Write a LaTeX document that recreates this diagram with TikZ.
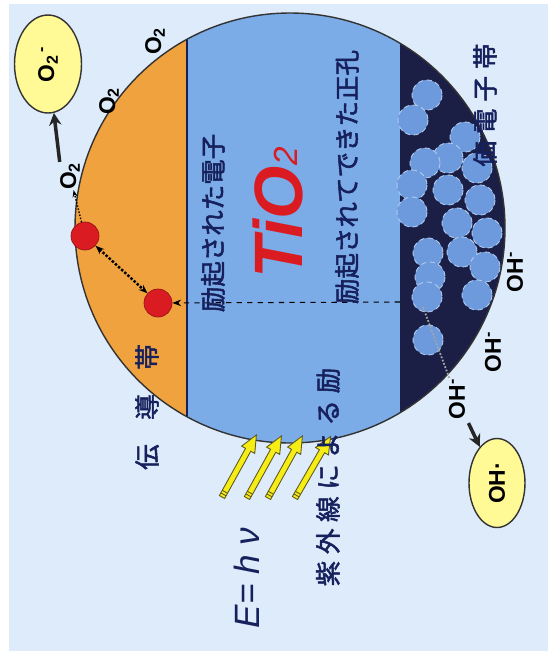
\documentclass[tikz,border=0pt]{standalone}
\usepackage{fontspec}
\setmainfont{Liberation Sans}
\newfontfamily\jpfont{Noto Sans CJK JP}[FakeBold=2]
\usetikzlibrary{shapes.geometric,arrows.meta}

\definecolor{sky}{RGB}{221,235,250}
\definecolor{band}{RGB}{240,162,62}
\definecolor{gap}{RGB}{124,172,232}
\definecolor{valence}{RGB}{27,31,70}
\definecolor{grainblue}{RGB}{108,154,220}
\definecolor{ink}{RGB}{22,32,92}
\definecolor{elec}{RGB}{218,28,34}
\definecolor{pale}{RGB}{255,250,150}
\definecolor{ray}{RGB}{246,236,22}
\definecolor{rayedge}{RGB}{95,90,30}

\tikzset{
	jlabel/.style={rotate=90, inner sep=0pt, text=ink, font=\jpfont\fontsize{14.5}{16}\selectfont},
	chem/.style={rotate=90, inner sep=0pt, font=\bfseries\fontsize{13}{15}\selectfont},
	bubble/.style={ellipse, rotate=90, draw=black!80, fill=pale, line width=0.8pt, inner sep=0pt, font=\bfseries\fontsize{13}{15}\selectfont},
	carrier/.style={circle, fill=elec, draw=elec!70!black, line width=0.4pt, inner sep=0pt, minimum size=0.56cm},
	grain/.style={fill=grainblue, draw=grainblue!50!white, densely dashed, line width=0.5pt},
	hop/.style={densely dotted, line width=1.4pt, {Stealth[length=5pt]}-{Stealth[length=5pt]}},
	push/.style={line width=2pt, black!85, -{Stealth[length=7pt,width=7pt]}},
	uvray/.pic={
		\filldraw[fill=ray, draw=rayedge, line width=0.5pt] (0,-3) -- (54,-3) -- (54,-7.5) -- (71,0) -- (54,7.5) -- (54,3) -- (0,3) -- cycle;
		\draw[rayedge, line width=0.5pt] (3,-3) -- (3,3) (6,-3) -- (6,3);
	}
}

\begin{document}
\begin{tikzpicture}[x=0.02cm, y=-0.02cm]
		\fill[white] (0,0) rectangle (553,660);
		\useasboundingbox (0,0) rectangle (553,660);
		\fill[sky] (9,4) rectangle (548,651);

		\node [] (0) at (290,228) {};
		% bands inside the particle
		\begin{scope}
			\clip (0.center) circle (215);
			\fill[band] (60,0) rectangle (187,460);
			\fill[gap] (187,0) rectangle (400,460);
			\fill[valence] (400,0) rectangle (520,460);
			\foreach \gx/\gy in {427/95, 413/120, 465/137, 448/158, 425/163, 477/168, 412/185, 448/190, 480/200, 412/212, 457/223, 487/233, 428/253, 462/252, 485/267, 430/277, 427/297, 477/295, 428/340}
				\draw[grain] (\gx,\gy) circle (15);
			\draw[ink, line width=1pt] (187,0) -- (187,460);
		\end{scope}
		\draw[black!80, line width=0.8pt] (0.center) circle (215);

		% electrons
		\node [carrier] (1) at (85,236) {};
		\node [carrier] (2) at (158,303) {};
		\node [] (4) at (400,302) {};
		\node [] (5) at (423,307) {};

		% oxygen side
		\node [chem] (3) at (70,176) {O\textsubscript{2}};
		\node [chem] (9) at (109,101) {O\textsubscript{2}};
		\node [chem] (10) at (155,41) {O\textsubscript{2}};
		\node [bubble, minimum width=1.96cm, minimum height=1.34cm] (8) at (48,64) {O\textsubscript{2}\textsuperscript{\,-}};

		% hydroxide side
		\node [chem] (6) at (457,399) {OH\textsuperscript{-}};
		\node [chem] (11) at (493,352) {OH\textsuperscript{-}};
		\node [chem] (12) at (515,272) {OH\textsuperscript{-}};
		\node [bubble, minimum width=1.78cm, minimum height=1.12cm] (7) at (497,483) {OH·};

		\draw [hop] (1) to (2);
		\draw [densely dotted, line width=0.8pt, -{Stealth[length=4pt]}] (1) to (3);
		\draw [push] (3.north east) to (8);
		\draw [dashed, line width=0.6pt, -{Stealth[length=5pt]}] (4.center) to (2);
		\draw [densely dotted, line width=1pt, black!35] (5.center) to (6);
		\draw [push, shorten <=4pt] (6) to (7);

		% incoming light
		\pic [rotate=61] at (222,497) {uvray};
		\pic [rotate=61] at (247,498) {uvray};
		\pic [rotate=61] at (268,498) {uvray};
		\pic [rotate=60] at (295,498) {uvray};

		% labels
		\node [jlabel] (13) at (147,407) {伝\kern14pt 導\kern14pt 帯};
		\node [jlabel] (14) at (213,223) {励起された電子};
		\node [jlabel] (15) at (347,177) {励起されてできた正孔};
		\node [jlabel] (16) at (328,477) {紫\kern3.8pt 外\kern3.8pt 線\kern3.8pt に\kern3.8pt よ\kern3.8pt る\kern3.8pt 励};
		\node [jlabel] (17) at (485,105) {価\kern4pt 電\kern4pt 子\kern4pt 帯};
		\node [rotate=90, inner sep=0pt, text=elec, font=\bfseries\itshape\fontsize{39}{42}\selectfont] (18) at (278,213) {TiO\raisebox{3pt}{\mdseries\fontsize{19}{19}\selectfont 2}};
		\node [rotate=90, inner sep=0pt, text=ink, font=\itshape\fontsize{20}{22}\selectfont] (19) at (247,578) {E= h ν};
\end{tikzpicture}
\end{document}
